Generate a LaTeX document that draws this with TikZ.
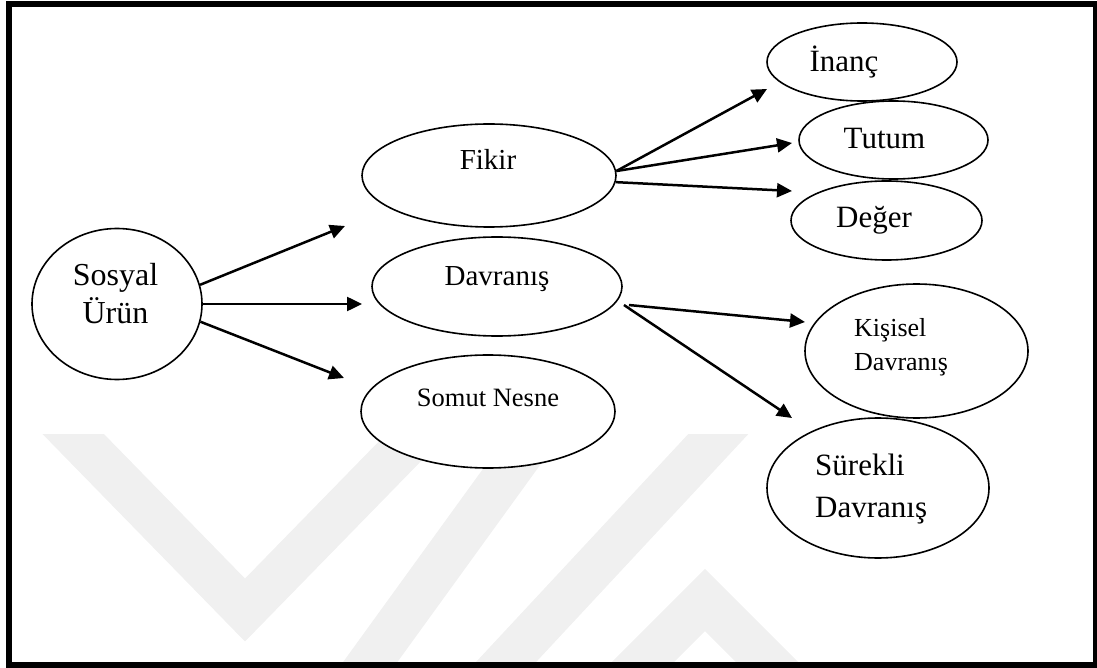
\documentclass[tikz,border=0pt]{standalone}
\usepackage{fontspec}
\setmainfont{Liberation Serif}
\usetikzlibrary{arrows.meta,shapes.geometric}
\begin{document}
\begin{tikzpicture}[x=1pt,y=-1pt,
  ell/.style={draw, fill=white, ellipse, line width=1.6pt, inner sep=0pt},
  arr/.style={line width=2.5pt, -{Triangle[length=15pt,width=14pt]}},
  lbl/.style={anchor=base, inner sep=0pt},
  lblw/.style={anchor=base west, inner sep=0pt},
  wm/.style={line width=44pt, color=black!6}
]
\useasboundingbox (0,0) rectangle (1097,668);
% faint watermark
\begin{scope}
\clip (12,434) rectangle (1093,662);
\draw[wm, line join=miter] (40,400) -- (245,610) -- (450,400);
\draw[wm] (350,690) -- (560,400);
\draw[wm] (480,690) -- (750,400);
\draw[wm, line join=miter] (615,690) -- (705,600) -- (795,690);
\end{scope}
% frame
\draw[line width=6pt] (9,4) rectangle (1096,665);
% ellipses
\node[ell, minimum width=170pt, minimum height=151pt] (sosyal) at (117,304) {};
\node[ell, minimum width=254pt, minimum height=103pt] (fikir) at (489,175.5) {};
\node[ell, minimum width=250pt, minimum height=99pt] (davranis) at (497,286.5) {};
\node[ell, minimum width=254pt, minimum height=113pt] (somut) at (488,411.5) {};
\node[ell, minimum width=190pt, minimum height=78pt] (inanc) at (862,62) {};
\node[ell, minimum width=189pt, minimum height=78pt] (tutum) at (893.5,140) {};
\node[ell, minimum width=191pt, minimum height=79pt] (deger) at (886.5,220.5) {};
\node[ell, minimum width=223pt, minimum height=134pt] (kisisel) at (916.5,351) {};
\node[ell, minimum width=222pt, minimum height=140pt] (surekli) at (878,488) {};
% texts
\node[lbl, font=\fontsize{32}{37}\selectfont] (sosyalA) at (115.5,286) {Sosyal};
\node[lbl, font=\fontsize{32}{37}\selectfont] (sosyalB) at (115.5,323) {Ürün};
\node[lbl, font=\fontsize{29}{34}\selectfont] (fikirT) at (488,170) {Fikir};
\node[lbl, font=\fontsize{29}{34}\selectfont] (davranisT) at (497,286) {Davranış};
\node[lbl, font=\fontsize{26.5}{32}\selectfont] (somutT) at (488,406) {Somut Nesne};
\node[lbl, font=\fontsize{31}{36}\selectfont] (inancT) at (844,72) {İnanç};
\node[lbl, font=\fontsize{31}{36}\selectfont] (tutumT) at (884.5,149) {Tutum};
\node[lbl, font=\fontsize{31}{36}\selectfont] (degerT) at (874,228) {Değer};
\node[lblw, font=\fontsize{26}{34}\selectfont] (kisiselA) at (854,336) {Kişisel};
\node[lblw, font=\fontsize{26}{34}\selectfont] (kisiselB) at (854,370) {Davranış};
\node[lblw, font=\fontsize{31}{42}\selectfont] (surekliA) at (815,475) {Sürekli};
\node[lblw, font=\fontsize{31}{42}\selectfont] (surekliB) at (815,517) {Davranış};
% arrow tips
\coordinate (tF) at (345,226);
\coordinate (tD) at (362,304);
\coordinate (tS) at (344,378);
\coordinate (tI) at (767,89);
\coordinate (tT) at (792,143);
\coordinate (tDg) at (792,191);
\coordinate (tK) at (805,322);
\coordinate (tSu) at (792,418);
% connectors
\draw[arr] (sosyal.13) -- (tF);
\draw[arr] (sosyal.east) -- (tD);
\draw[arr] (sosyal.-12) -- (tS);
\draw[arr] (fikir.2) -- (tI);
\draw[arr] (fikir.2) -- (tT);
\draw[arr] (fikir.-3) -- (tDg);
\draw[arr] ([xshift=15pt]davranis.-9) -- (tK);
\draw[arr] ([xshift=10pt]davranis.-9) -- (tSu);
\end{tikzpicture}
\end{document}
